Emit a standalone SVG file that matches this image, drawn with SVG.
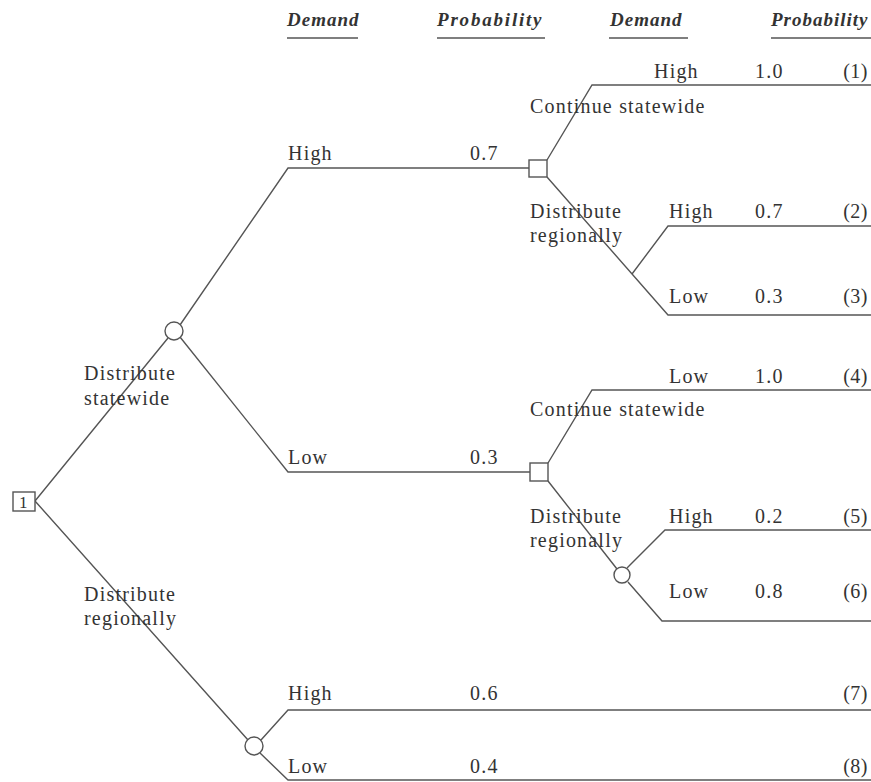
<svg xmlns="http://www.w3.org/2000/svg" width="871" height="782" viewBox="0 0 871 782">
<style>
text{font-family:"Liberation Serif","Times New Roman",serif;font-size:20px;fill:#333;letter-spacing:1.2px}
.h{font-style:italic;font-weight:bold;font-size:19px;letter-spacing:1px}
.r{text-anchor:end;letter-spacing:0.5px}
.l{stroke:#555;stroke-width:1.4;fill:none}
.n{stroke:#555;stroke-width:1.4;fill:#fff}
</style>
<rect width="871" height="782" fill="#fff"/>
<g id="header">
<text class="h" x="287" y="26">Demand</text>
<text class="h" x="437" y="26" style="letter-spacing:1.8px">Probability</text>
<text class="h" x="610" y="26">Demand</text>
<text class="h" x="771" y="26">Probability</text>
<path class="l" d="M287 38H358M437 38H545M609 38H688M771 38H871"/>
</g>
<g id="connectors">
<path class="l" d="M35 501L168 338M35 501L248 740"/>
<path class="l" d="M180 325L288 168H529M180 337L288 472H530"/>
<path class="l" d="M261 740L288 710H871M260 753L288 780H871"/>
<path class="l" d="M547 160L592 85H871M547 177L668 315H871M632 274L668 226H871"/>
<path class="l" d="M548 463L592 390H871M548 481L617 569M627 568L665 530H871M628 582L662 621H871"/>
</g>
<g id="root"><rect class="n" x="13" y="492" width="22" height="19"/><text x="19" y="508" style="font-size:17px;letter-spacing:0">1</text></g>
<g id="chanceA"><circle class="n" cx="174" cy="331" r="9"/></g>
<g id="chanceD"><circle class="n" cx="254" cy="746" r="9"/></g>
<g id="decisionB"><rect class="n" x="529" y="160" width="18" height="17"/></g>
<g id="decisionC"><rect class="n" x="530" y="463" width="18" height="18"/></g>
<g id="chanceE"><circle class="n" cx="622" cy="575" r="8"/></g>
<g id="labels">
<text x="84" y="380">Distribute</text>
<text x="84" y="405">statewide</text>
<text x="84" y="601">Distribute</text>
<text x="84" y="625">regionally</text>
<text x="288" y="160">High</text><text x="470" y="160">0.7</text>
<text x="288" y="464">Low</text><text x="470" y="464">0.3</text>
<text x="288" y="700">High</text><text x="470" y="700">0.6</text><text class="r" x="868" y="700">(7)</text>
<text x="288" y="773">Low</text><text x="470" y="773">0.4</text><text class="r" x="868" y="773">(8)</text>
<text x="654" y="78">High</text><text x="755" y="78">1.0</text><text class="r" x="868" y="78">(1)</text>
<text x="530" y="113">Continue statewide</text>
<text x="530" y="218">Distribute</text><text x="530" y="242">regionally</text>
<text x="669" y="218">High</text><text x="755" y="218">0.7</text><text class="r" x="868" y="218">(2)</text>
<text x="669" y="303">Low</text><text x="755" y="303">0.3</text><text class="r" x="868" y="303">(3)</text>
<text x="669" y="383">Low</text><text x="755" y="383">1.0</text><text class="r" x="868" y="383">(4)</text>
<text x="530" y="416">Continue statewide</text>
<text x="530" y="523">Distribute</text><text x="530" y="547">regionally</text>
<text x="669" y="523">High</text><text x="755" y="523">0.2</text><text class="r" x="868" y="523">(5)</text>
<text x="669" y="598">Low</text><text x="755" y="598">0.8</text><text class="r" x="868" y="598">(6)</text>
</g>
</svg>
